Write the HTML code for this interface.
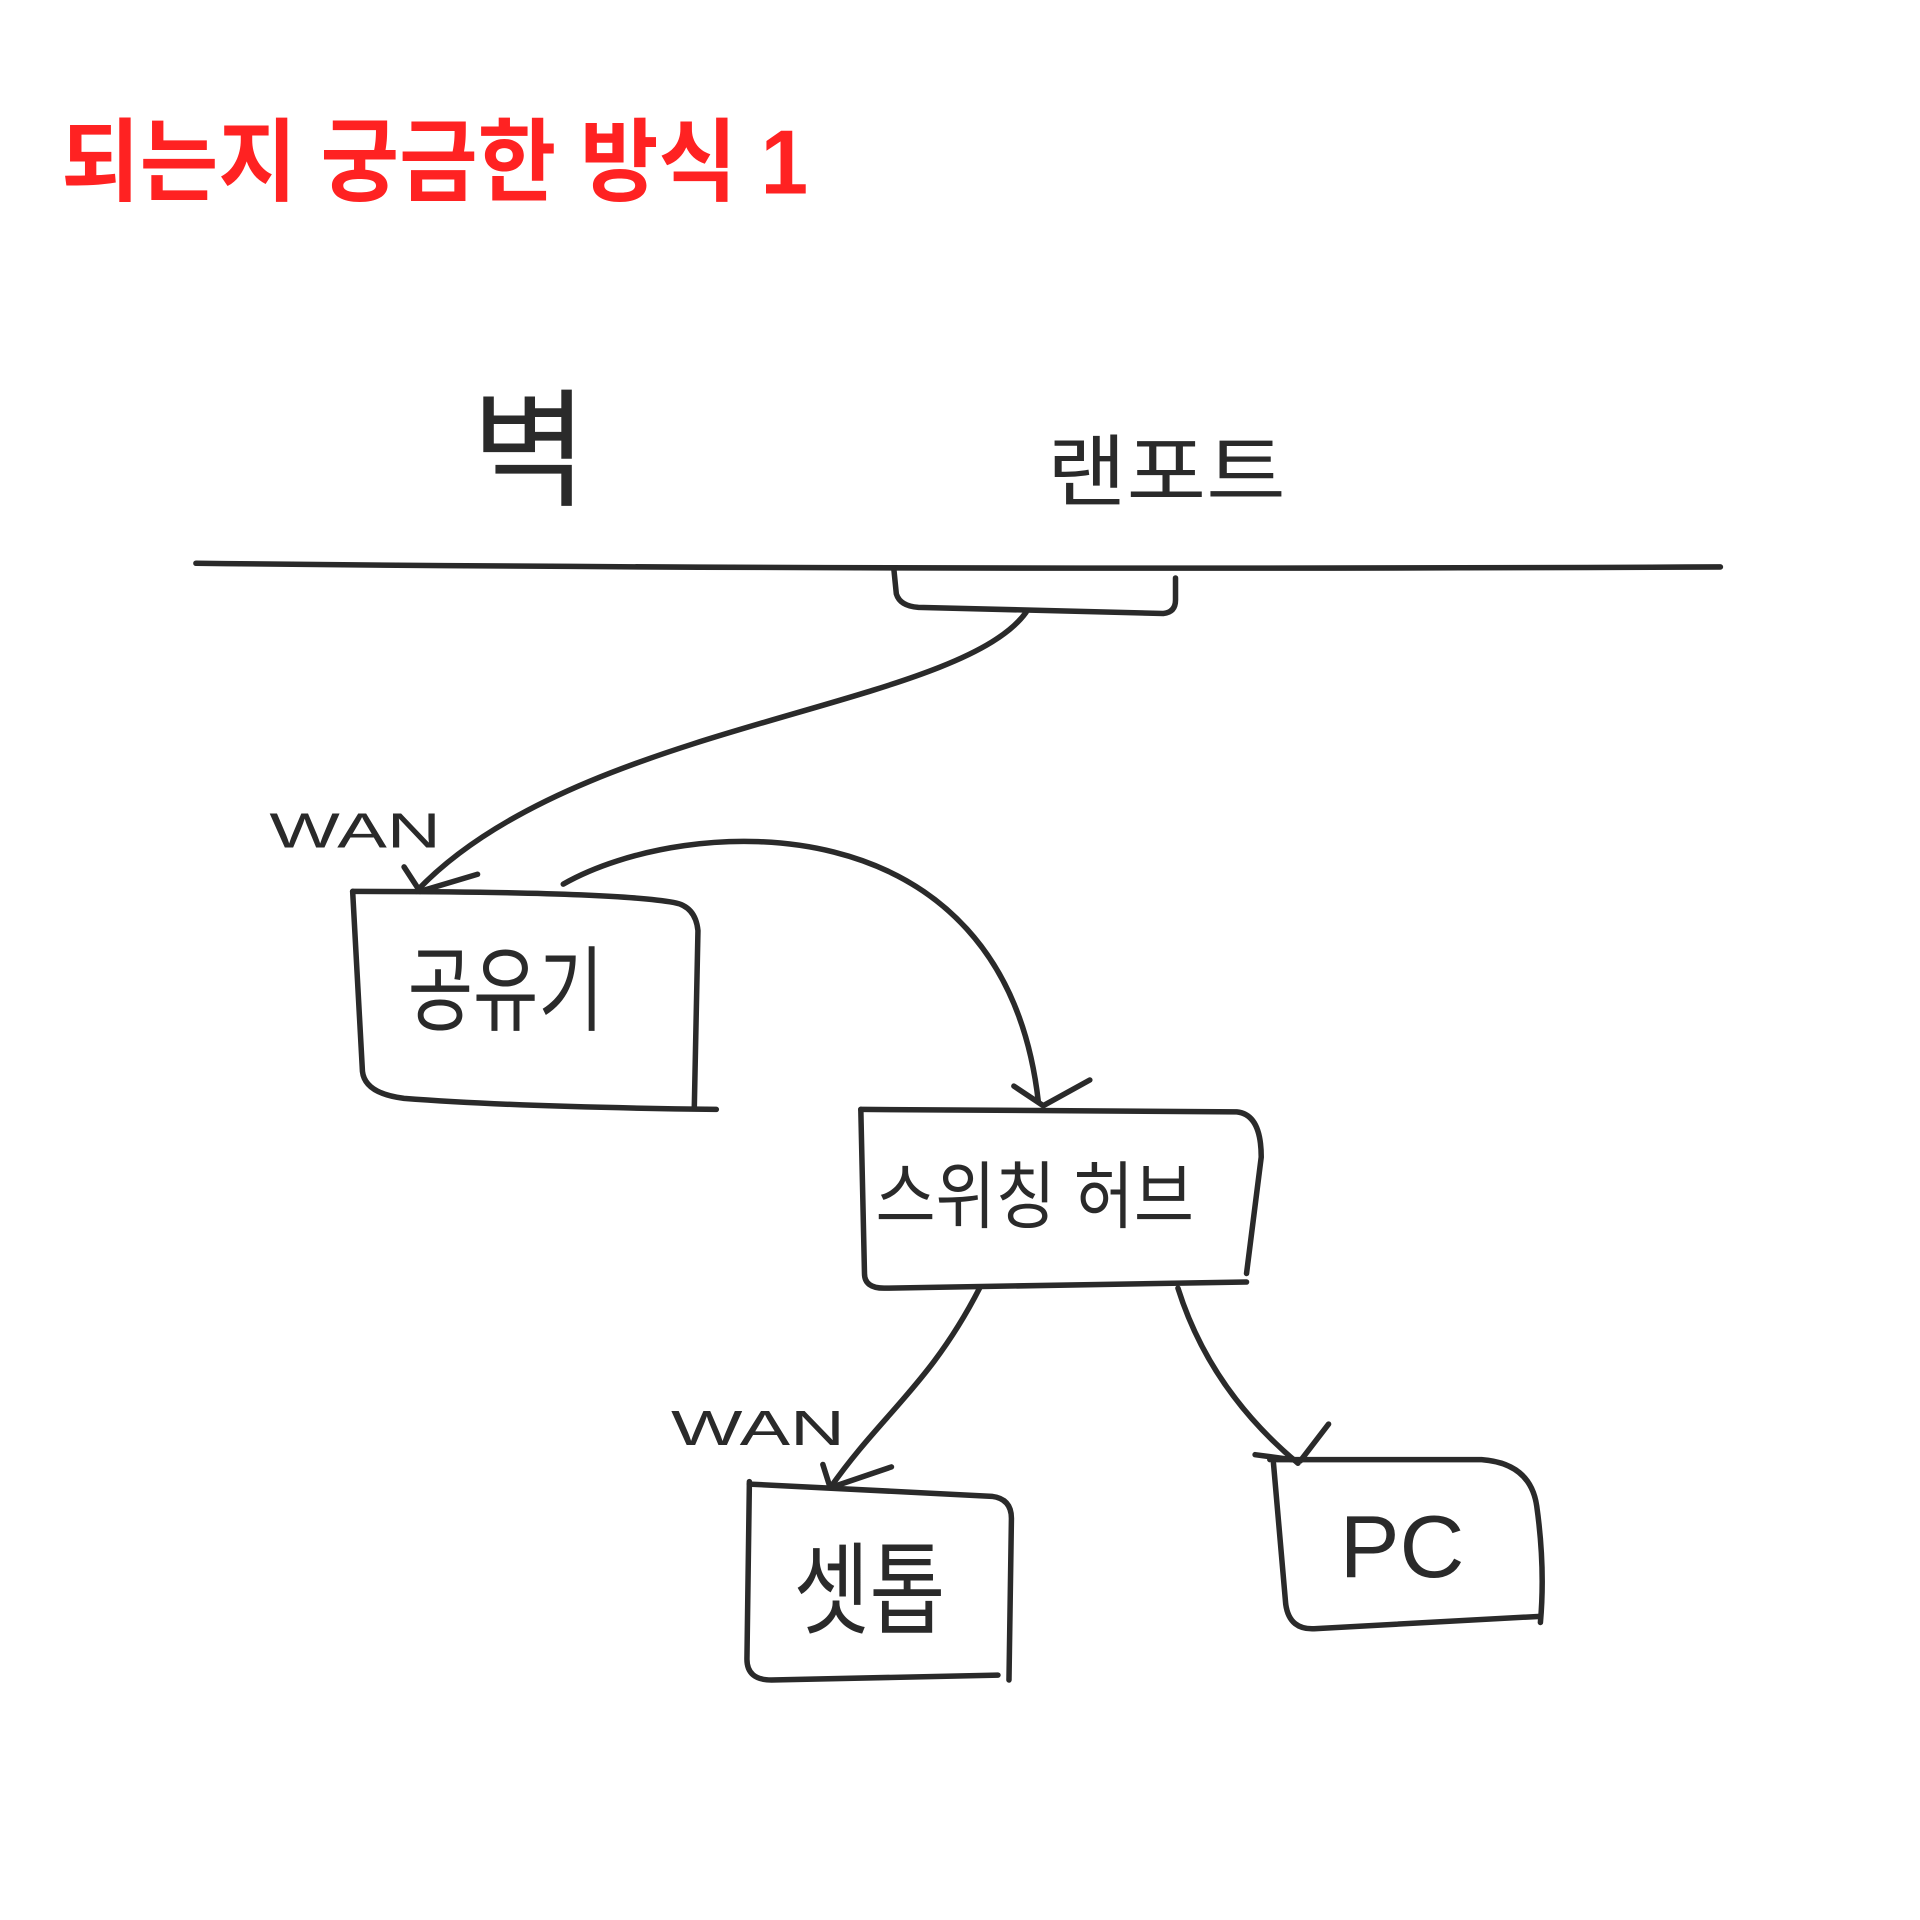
<!DOCTYPE html>
<html><head><meta charset="utf-8"><style>
html,body{margin:0;padding:0;background:#fff;width:1920px;height:1920px;overflow:hidden}
svg{display:block}
text{font-family:"Liberation Sans","Noto Sans CJK KR","NanumGothic",sans-serif}
</style></head><body>
<svg width="1920" height="1920" viewBox="0 0 1568 1568" xmlns="http://www.w3.org/2000/svg">
<g fill="none" stroke="#2a2a2a" stroke-width="4.5" stroke-linecap="round" stroke-linejoin="round">
<path d="M160,460 Q700,466 1405,463"/>
<path d="M730,465 L732,485 Q735,495 750,496 L950,501 Q960,500 960,490 L960,472"/>
<path d="M838,500 C780,580 470,590 340,728"/>
<path d="M330,708 L343,728 L390,714"/>
<path d="M288,728 L296,875 Q298,893 330,897 Q420,904 585,906"/>
<path d="M567,905 L570,760 Q568,740 550,737 Q500,728 288,728"/>
<path d="M460,722 C560,665 820,650 848,900"/>
<path d="M828,887 L852,903 L890,882"/>
<path d="M703,906 L706,1040 Q706,1052 722,1052 L1018,1047"/>
<path d="M703,906 L1010,908 Q1030,910 1030,945 L1018,1040"/>
<path d="M800,1052 C760,1130 720,1155 678,1215"/>
<path d="M672,1196 L678,1215 L728,1198"/>
<path d="M612,1210 L610,1355 Q610,1372 630,1372 L815,1368"/>
<path d="M612,1212 L810,1222 Q826,1224 826,1240 L824,1372"/>
<path d="M962,1052 C985,1125 1030,1170 1060,1195"/>
<path d="M1025,1188 L1062,1193 L1085,1163"/>
<path d="M1037,1192 L1210,1192 Q1250,1195 1255,1230 Q1262,1280 1258,1325"/>
<path d="M1040,1195 L1050,1310 Q1053,1332 1075,1330 L1258,1320"/>
</g>
<text x="50" y="158" font-size="74" font-weight="bold" fill="#f22" textLength="610" lengthAdjust="spacingAndGlyphs">되는지 궁금한 방식 1</text>
<text x="385" y="405" font-size="105" fill="#2a2a2a" textLength="95" lengthAdjust="spacingAndGlyphs">벽</text>
<text x="855" y="408" font-size="64" fill="#2a2a2a" textLength="195" lengthAdjust="spacingAndGlyphs">랜포트</text>
<text x="220" y="692" font-size="40" fill="#2a2a2a" textLength="140" lengthAdjust="spacingAndGlyphs">WAN</text>
<text x="333" y="836" font-size="76" fill="#2a2a2a" textLength="160" lengthAdjust="spacingAndGlyphs">공유기</text>
<text x="715" y="998" font-size="60" fill="#2a2a2a" textLength="260" lengthAdjust="spacingAndGlyphs">스위칭 허브</text>
<text x="548" y="1180" font-size="40" fill="#2a2a2a" textLength="142" lengthAdjust="spacingAndGlyphs">WAN</text>
<text x="648" y="1328" font-size="82" fill="#2a2a2a" textLength="124" lengthAdjust="spacingAndGlyphs">셋톱</text>
<text x="1094" y="1288" font-size="72" fill="#2a2a2a" textLength="102" lengthAdjust="spacingAndGlyphs">PC</text>
</svg>
</body></html>
